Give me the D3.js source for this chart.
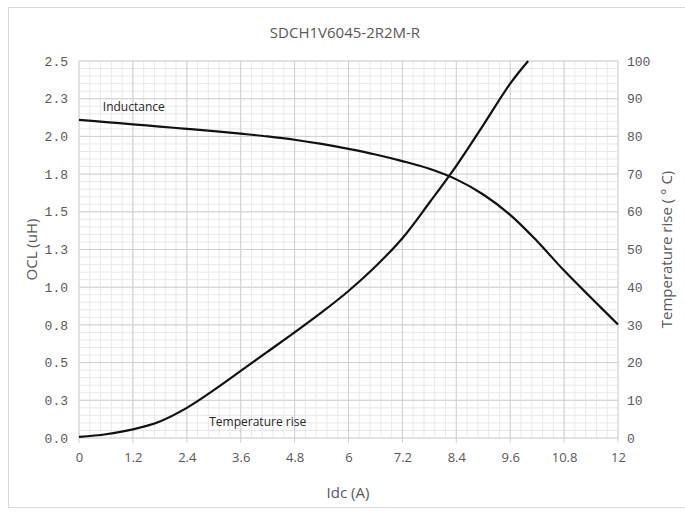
<!DOCTYPE html>
<html>
<head>
<meta charset="utf-8">
<script src="https://cdn.jsdelivr.net/npm/d3@7"></script>
<style>
  body { margin: 0; background: #fff; }
  svg { display: block; }
</style>
</head>
<body>
<svg id="chart" width="685" height="514"></svg>
<script>
/*--- Data ---*/
const current = [0, 0.6, 1.2, 1.8, 2.4, 3.0, 3.6, 4.2, 4.8, 5.4, 6.0, 6.6, 7.2, 7.8, 8.4, 9.0, 9.6, 10.2, 10.8, 11.4, 12.0];
const inductance = [2.11, 2.095, 2.08, 2.065, 2.05, 2.035, 2.018, 2.0, 1.978, 1.95, 1.917, 1.88, 1.836, 1.785, 1.715, 1.615, 1.48, 1.305, 1.11, 0.93, 0.753];

const tempCurrent = [0, 0.6, 1.2, 1.8, 2.4, 3.0, 3.6, 4.2, 4.8, 5.4, 6.0, 6.6, 7.2, 7.8, 8.4, 9.0, 9.6, 10.0];
const tempRise = [0.3, 1.0, 2.3, 4.4, 8.0, 12.7, 17.8, 22.9, 28.0, 33.3, 39.0, 45.5, 53.0, 62.4, 72.2, 83.0, 94.0, 100];

const xTicks = [0, 1.2, 2.4, 3.6, 4.8, 6, 7.2, 8.4, 9.6, 10.8, 12];
const xTickLabels = ["0", "1.2", "2.4", "3.6", "4.8", "6", "7.2", "8.4", "9.6", "10.8", "12"];
const leftTicks = [0, 0.25, 0.5, 0.75, 1.0, 1.25, 1.5, 1.75, 2.0, 2.25, 2.5];
const leftTickLabels = ["0.0", "0.3", "0.5", "0.8", "1.0", "1.3", "1.5", "1.8", "2.0", "2.3", "2.5"];
const rightTicks = [0, 10, 20, 30, 40, 50, 60, 70, 80, 90, 100];

/*--- Layout ---*/
const svg = d3.select("#chart");
const margin = {left: 79, right: 67, top: 61, bottom: 76};
const W = 685, H = 514;
const x0 = margin.left, x1 = W - margin.right;
const y0 = H - margin.bottom, y1 = margin.top;

const xScale = d3.scaleLinear().domain([0, 12]).range([x0, x1]);
const yLeft = d3.scaleLinear().domain([0, 2.5]).range([y0, y1]);
const yRight = d3.scaleLinear().domain([0, 100]).range([y0, y1]);

// outer chart border
svg.append("rect")
    .attr("x", 8.5).attr("y", 7.5)
    .attr("width", 690).attr("height", 500)
    .attr("fill", "none")
    .attr("stroke", "#d9d9d9");

// minor grid
const minorX = d3.range(0, 12.0001, 0.24);
const minorY = d3.range(0, 2.5001, 0.05);
const grid = svg.append("g");
grid.selectAll("line.mx")
    .data(minorX).join("line").attr("class", "mx")
    .attr("x1", d => xScale(d)).attr("x2", d => xScale(d))
    .attr("y1", y0).attr("y2", y1)
    .attr("stroke", "#e9e9e9").attr("stroke-width", 1);
grid.selectAll("line.my")
    .data(minorY).join("line").attr("class", "my")
    .attr("y1", d => yLeft(d)).attr("y2", d => yLeft(d))
    .attr("x1", x0).attr("x2", x1)
    .attr("stroke", "#e9e9e9").attr("stroke-width", 1);

// major grid
grid.selectAll("line.gx")
    .data(xTicks).join("line").attr("class", "gx")
    .attr("x1", d => xScale(d)).attr("x2", d => xScale(d))
    .attr("y1", y0 + 5).attr("y2", y1)
    .attr("stroke", "#d0d0d0").attr("stroke-width", 1);
grid.selectAll("line.gy")
    .data(leftTicks).join("line").attr("class", "gy")
    .attr("y1", d => yLeft(d)).attr("y2", d => yLeft(d))
    .attr("x1", x0).attr("x2", x1)
    .attr("stroke", "#d0d0d0").attr("stroke-width", 1);

// axes (labels only)
const tickFont = "'Liberation Mono', 'DejaVu Sans Mono', monospace";

const xAxis = svg.append("g")
    .attr("transform", `translate(0,${y0})`)
    .call(d3.axisBottom(xScale).tickValues(xTicks).tickSize(0).tickPadding(15)
        .tickFormat((d, i) => xTickLabels[i]));
xAxis.select(".domain").remove();
xAxis.selectAll("text")
    .attr("font-family", "'Open Sans', sans-serif")
    .attr("font-size", 13)
    .attr("fill", "#595959");

const lAxis = svg.append("g")
    .attr("transform", `translate(${x0},0)`)
    .call(d3.axisLeft(yLeft).tickValues(leftTicks).tickSize(0).tickPadding(11)
        .tickFormat((d, i) => leftTickLabels[i]));
lAxis.select(".domain").remove();
lAxis.selectAll("text")
    .attr("font-family", tickFont)
    .attr("font-size", 13)
    .attr("fill", "#595959");

const rAxis = svg.append("g")
    .attr("transform", `translate(${x1},0)`)
    .call(d3.axisRight(yRight).tickValues(rightTicks).tickSize(0).tickPadding(9));
rAxis.select(".domain").remove();
rAxis.selectAll("text")
    .attr("font-family", tickFont)
    .attr("font-size", 13)
    .attr("fill", "#595959");

// curves
const indData = current.map((c, i) => ({x: c, y: inductance[i]}));
const tempData = tempCurrent.map((c, i) => ({x: c, y: tempRise[i]}));

svg.append("path")
    .datum(indData)
    .attr("fill", "none")
    .attr("stroke", "#111")
    .attr("stroke-width", 2.2)
    .attr("d", d3.line().x(d => xScale(d.x)).y(d => yLeft(d.y)).curve(d3.curveCatmullRom));

svg.append("path")
    .datum(tempData)
    .attr("fill", "none")
    .attr("stroke", "#111")
    .attr("stroke-width", 2.2)
    .attr("d", d3.line().x(d => xScale(d.x)).y(d => yRight(d.y)).curve(d3.curveCatmullRom));

// annotations
const labelFont = "'Open Sans', sans-serif";
svg.append("text")
    .attr("x", xScale(0.53)).attr("y", yLeft(2.17))
    .attr("font-family", labelFont).attr("font-size", 12)
    .attr("fill", "#262626")
    .text("Inductance");
svg.append("text")
    .attr("x", xScale(2.9)).attr("y", yRight(3.2))
    .attr("font-family", labelFont).attr("font-size", 12)
    .attr("fill", "#262626")
    .text("Temperature rise");

// titles
svg.append("text")
    .attr("x", 345).attr("y", 38)
    .attr("text-anchor", "middle")
    .attr("font-family", labelFont).attr("font-size", 15)
    .attr("fill", "#595959")
    .text("SDCH1V6045-2R2M-R");

svg.append("text")
    .attr("x", 348).attr("y", 498)
    .attr("text-anchor", "middle")
    .attr("font-family", labelFont).attr("font-size", 15)
    .attr("fill", "#595959")
    .text("Idc (A)");

svg.append("text")
    .attr("transform", `translate(37,${(y0 + y1) / 2}) rotate(-90)`)
    .attr("text-anchor", "middle")
    .attr("font-family", labelFont).attr("font-size", 15)
    .attr("fill", "#595959")
    .text("OCL (uH)");

svg.append("text")
    .attr("transform", `translate(672,${(y0 + y1) / 2}) rotate(-90)`)
    .attr("text-anchor", "middle")
    .attr("font-family", labelFont).attr("font-size", 15)
    .attr("fill", "#595959")
    .text("Temperature rise ( ° C)");
</script>
</body>
</html>
